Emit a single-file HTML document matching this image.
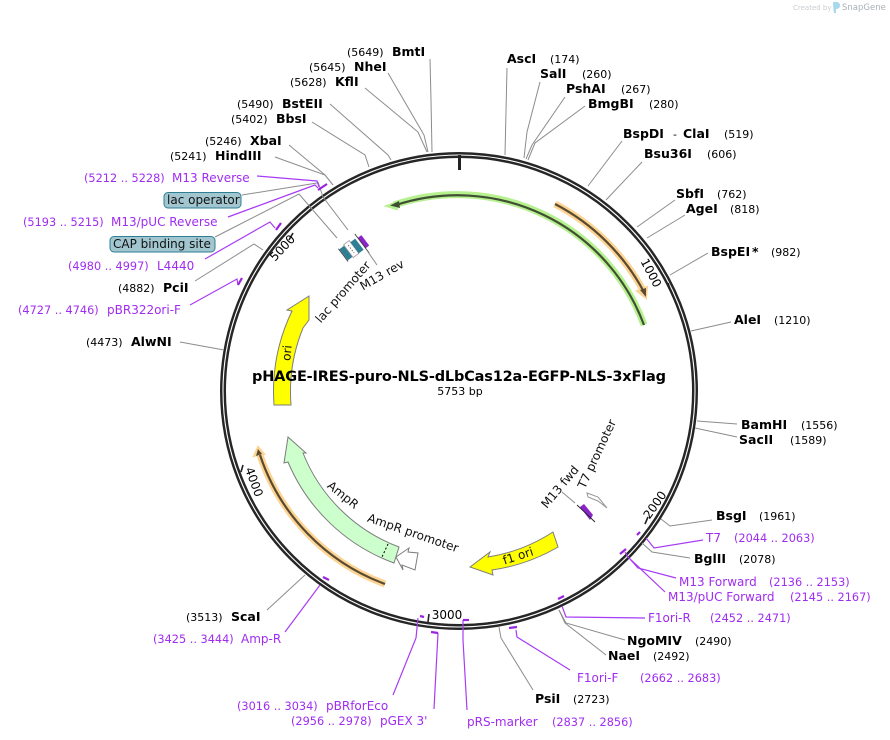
<!DOCTYPE html>
<html>
<head>
<meta charset="utf-8">
<style>
html,body{margin:0;padding:0;background:#fff;width:890px;height:740px;overflow:hidden}
svg{display:block}
text{font-family:"DejaVu Sans",sans-serif;fill:#000}
.n{font-size:11px}
.b{font-size:12.5px;font-weight:bold}
.p{font-size:12px;fill:#a02cf0}
.pn{font-size:11.3px;fill:#a02cf0}
.f{font-size:12px;fill:#111}
.g{fill:none;stroke:#8c8c8c;stroke-width:1}
.v{fill:none;stroke:#a83cf5;stroke-width:1.2}
.t{fill:none;stroke:#9a24e0;stroke-width:2.2}
</style>
</head>
<body>
<svg width="890" height="740" viewBox="0 0 890 740" xmlns="http://www.w3.org/2000/svg">
<!-- watermark -->
<text x="793" y="10" style="font-size:7px;fill:#c8cdd2">Created by</text>
<path d="M833 2h3q4 0 4 3.500t-4 3.500v4h-2q-1-5-1-11z" fill="#a8d8ee"/>
<text x="842" y="10" style="font-size:8.500px;fill:#a9b0b6">SnapGene</text>

<!-- ring -->
<circle cx="459" cy="391" r="236" fill="none" stroke="#262626" stroke-width="6"/>
<circle cx="459" cy="391" r="236" fill="none" stroke="#fff" stroke-width="1.1"/>

<!-- ticks -->
<path d="M459.5 155V170" stroke="#222" stroke-width="3" fill="none"/>
<g stroke="#222" stroke-width="1.6" fill="none">
<path d="M668 283L670 289"/>
<path d="M645 524L648 517"/>
<path d="M428 622L429 614"/>
<path d="M243 465L241 472"/>
<path d="M293 233L289 240"/>
</g>
<text transform="translate(651,273) rotate(62)" text-anchor="middle" style="font-size:12px" dy="4">1000</text>
<text transform="translate(655,505) rotate(-55)" text-anchor="middle" style="font-size:12px" dy="4">2000</text>
<text x="447" y="619" text-anchor="middle" style="font-size:12px">3000</text>
<text transform="translate(254,482) rotate(70)" text-anchor="middle" style="font-size:12px" dy="4">4000</text>
<text transform="translate(282.500,248) rotate(-47)" text-anchor="middle" style="font-size:12px" dy="4">5000</text>

<!-- gray connectors -->
<g class="g">
<path d="M430 59L431 100L432 152"/>
<path d="M388 73L424 135L428 152"/>
<path d="M365 88L418 132L427 152"/>
<path d="M330 104L388 155L391 160"/>
<path d="M312 122L365 155L369 167"/>
<path d="M289 145L325 175L333 185"/>
<path d="M275 157L325 175L333 185"/>
<path d="M242 195L317 183"/>
<path d="M318 182L323 197L348 230"/>
<path d="M215 237L299 194L337 238"/>
<path d="M195 281L254 244L263 250"/>
<path d="M180 342L224 350"/>
<path d="M507 68L505 155"/>
<path d="M540 82L527 132L524 158"/>
<path d="M565 97L532 145L526 159"/>
<path d="M585 106L535 143L528 160"/>
<path d="M622 141L588 186"/>
<path d="M642 162L606 200"/>
<path d="M675 200L637 227"/>
<path d="M685 215L647 238"/>
<path d="M708 253L670 275"/>
<path d="M731 322L691 331"/>
<path d="M737 424L697 421"/>
<path d="M737 437L695 428"/>
<path d="M712 520L670 526L661 519"/>
<path d="M690 558L652 552L642 543"/>
<path d="M625 640L566 623L559 610"/>
<path d="M606 655L565 623L559 610"/>
<path d="M533 690L501 638L499 627"/>
<path d="M267 610L305 575"/>
<path d="M562 492L575 503"/>
</g>

<!-- purple connectors -->
<g class="v">
<path d="M257 176L317 181L319 187"/>
<path d="M228 217L315 185L318 188"/>
<path d="M205 259L270 222L275 228"/>
<path d="M190 305L237 279L238 285"/>
<path d="M285 632L320 585"/>
<path d="M703 540L654 548L646 538"/>
<path d="M676 578L638 568L629 558"/>
<path d="M665 592L628 557L625 552"/>
<path d="M645 618L566 617L562 606"/>
<path d="M570 670L517 637L516 630"/>
<path d="M467 710L463 640L463 620"/>
<path d="M434 709L438 633"/>
<path d="M393 695L416 638L418 618"/>
</g>
<g class="t">
<path d="M318 190L327 184"/>
<path d="M276 230L281 223"/>
<path d="M238 285L242 278"/>
<path d="M323 577L329 580"/>
<path d="M637 535L640 532"/>
<path d="M620 554L626 549"/>
<path d="M558 599L564 596"/>
<path d="M509 628L517 627"/>
<path d="M463 620L469 620"/>
<path d="M431 632L438 633"/>
<path d="M420 616L424 617"/>
</g>

<!-- green ORF arc -->
<path d="M644 325A199 199 0 0 0 394 205" fill="none" stroke="#b7f08f" stroke-width="7"/>
<path d="M396 203L388 206L398 209" fill="#b7f08f" stroke="#b7f08f" stroke-width="3"/>
<path d="M644 325A199 199 0 0 0 396 205" fill="none" stroke="#3f4f33" stroke-width="2.200"/>
<path d="M399 201L390 205.500L400 208z" fill="#3f4f33"/>

<!-- orange arcs -->
<path d="M555 204A212 212 0 0 1 644 292" fill="none" stroke="#fcd494" stroke-width="7"/>
<path d="M637 291L646 298L647 287z" fill="#fcd494" stroke="#fcd494" stroke-width="2"/>
<path d="M555 204A212 212 0 0 1 644 292" fill="none" stroke="#5a4a30" stroke-width="2.200"/>
<path d="M640 290L646 297L646 288z" fill="#5a4a30"/>
<path d="M385 584A207 207 0 0 1 260 455" fill="none" stroke="#fcd494" stroke-width="7"/>
<path d="M254 456L258 447L264 454z" fill="#fcd494" stroke="#fcd494" stroke-width="2"/>
<path d="M385 584A207 207 0 0 1 260 455" fill="none" stroke="#5a4a30" stroke-width="2.200"/>
<path d="M256 456L258 449L262 454z" fill="#5a4a30"/>

<!-- AmpR -->
<path d="M288 437L306 453L303 453A166 166 0 0 0 399 547L394 563A183 183 0 0 1 288 462L284 463z" fill="#ccffcc" stroke="#7d7d7d" stroke-width="1"/>
<path d="M388 544L382 557" stroke="#000" stroke-width="1" stroke-dasharray="2 2" fill="none"/>
<text transform="translate(343,495) rotate(39)" text-anchor="middle" class="f" dy="4">AmpR</text>
<!-- AmpR promoter -->
<path d="M396 557L409 548L408 552L418 553L415 570L402 565L403 570z" fill="#fff" stroke="#7d7d7d" stroke-width="1"/>
<text transform="translate(413,533) rotate(19)" text-anchor="middle" class="f" dy="4">AmpR promoter</text>

<!-- f1 ori -->
<path d="M470 567L490 552L488 557A168 168 0 0 0 553 532L558 547A183 183 0 0 1 492 570L493 575z" fill="#ffff00" stroke="#7d7d7d" stroke-width="1"/>
<text transform="translate(518,556) rotate(-18)" text-anchor="middle" class="f" dy="4">f1 ori</text>

<!-- ori -->
<path d="M274 405A186 186 0 0 1 292 311L287 310L309 296L309 320L303 328A169 169 0 0 0 291 405z" fill="#ffff00" stroke="#7d7d7d" stroke-width="1"/>
<text transform="translate(287,353) rotate(-85)" text-anchor="middle" class="f" dy="4">ori</text>

<!-- lac region -->
<text transform="translate(343,292) rotate(-49)" text-anchor="middle" class="f" dy="4">lac promoter</text>
<text transform="translate(382,275) rotate(-30)" text-anchor="middle" class="f" dy="4">M13 rev</text>
<g transform="translate(346,253) rotate(53)">
<rect x="-7" y="-3" width="14" height="6" fill="#2e7f93"/>
<path d="M-8 3.500H8" stroke="#333" stroke-width=".8"/>
<rect x="-8" y="-10" width="16" height="7" fill="#fff" stroke="#999" stroke-width=".8"/>
<path d="M-5 -6.500H5" stroke="#777" stroke-width="1" stroke-dasharray="1.500 1.500"/>
<rect x="-6" y="-16" width="14" height="6" fill="#2e7f93"/>
<rect x="-5" y="-23" width="13" height="4.500" fill="#8a24c8"/>
<path d="M-10 -18.500H14" stroke="#333" stroke-width=".8"/>
</g>
<path d="M368 252L377 265" class="g"/>

<!-- M13 fwd / T7 -->
<text transform="translate(560,487) rotate(-50)" text-anchor="middle" class="f" dy="4">M13 fwd</text>
<text transform="translate(597,454) rotate(-65)" text-anchor="middle" class="f" dy="4">T7 promoter</text>
<path d="M580 507L584 504L593 515L590 520z" fill="#8a24c8"/>
<path d="M577 505L595 522" stroke="#222" stroke-width=".9" fill="none"/>
<path d="M587 493L598 497L607 508L598 501L588 497z" fill="#fff" stroke="#999" stroke-width="1"/>

<!-- title -->
<text x="459" y="381" text-anchor="middle" style="font-size:14.500px;font-weight:bold" textLength="414" lengthAdjust="spacing">pHAGE-IRES-puro-NLS-dLbCas12a-EGFP-NLS-3xFlag</text>
<text x="460" y="395" text-anchor="middle" style="font-size:11px">5753 bp</text>

<!-- pills -->
<rect x="164" y="192.500" width="77" height="15.500" rx="4" fill="#a2c6d0" stroke="#2e7f93"/>
<text x="167" y="204" class="f">lac operator</text>
<rect x="110" y="236.500" width="105" height="15.500" rx="4" fill="#a2c6d0" stroke="#2e7f93"/>
<text x="113" y="248" class="f">CAP binding site</text>

<!-- enzyme labels -->
<g>
<text x="347" y="56" class="n">(5649)</text><text x="392" y="56" class="b">BmtI</text>
<text x="309" y="71" class="n">(5645)</text><text x="354" y="71" class="b">NheI</text>
<text x="290" y="86" class="n">(5628)</text><text x="335" y="86" class="b">KflI</text>
<text x="237" y="108" class="n">(5490)</text><text x="282" y="108" class="b">BstEII</text>
<text x="231" y="123" class="n">(5402)</text><text x="276" y="123" class="b">BbsI</text>
<text x="205" y="145" class="n">(5246)</text><text x="250" y="145" class="b">XbaI</text>
<text x="170" y="160" class="n">(5241)</text><text x="215" y="160" class="b">HindIII</text>
<text x="118" y="292" class="n">(4882)</text><text x="163" y="292" class="b">PciI</text>
<text x="86" y="346" class="n">(4473)</text><text x="131" y="346" class="b">AlwNI</text>
<text x="186" y="621" class="n">(3513)</text><text x="231" y="621" class="b">ScaI</text>

<text x="507" y="63" class="b">AscI</text><text x="550" y="63" class="n">(174)</text>
<text x="540" y="78" class="b">SalI</text><text x="582" y="78" class="n">(260)</text>
<text x="566" y="93" class="b">PshAI</text><text x="621" y="93" class="n">(267)</text>
<text x="588" y="108" class="b">BmgBI</text><text x="649" y="108" class="n">(280)</text>
<text x="623" y="138" class="b">BspDI</text><text x="673" y="138" class="n">-</text><text x="683" y="138" class="b">ClaI</text><text x="724" y="138" class="n">(519)</text>
<text x="644" y="158" class="b">Bsu36I</text><text x="707" y="158" class="n">(606)</text>
<text x="676" y="198" class="b">SbfI</text><text x="717" y="198" class="n">(762)</text>
<text x="686" y="213" class="b">AgeI</text><text x="730" y="213" class="n">(818)</text>
<text x="711" y="256" class="b">BspEI</text><text x="752" y="256" class="b">*</text><text x="771" y="256" class="n">(982)</text>
<text x="734" y="324" class="b">AleI</text><text x="774" y="324" class="n">(1210)</text>
<text x="741" y="429" class="b">BamHI</text><text x="801" y="429" class="n">(1556)</text>
<text x="739" y="444" class="b">SacII</text><text x="790" y="444" class="n">(1589)</text>
<text x="716" y="520" class="b">BsgI</text><text x="759" y="520" class="n">(1961)</text>
<text x="694" y="563" class="b">BglII</text><text x="739" y="563" class="n">(2078)</text>
<text x="627" y="645" class="b">NgoMIV</text><text x="695" y="645" class="n">(2490)</text>
<text x="608" y="660" class="b">NaeI</text><text x="653" y="660" class="n">(2492)</text>
<text x="535" y="703" class="b">PsiI</text><text x="573" y="703" class="n">(2723)</text>
</g>

<!-- primer labels -->
<g>
<text x="84" y="182" class="pn">(5212 .. 5228)</text><text x="172" y="182" class="p">M13 Reverse</text>
<text x="23" y="226" class="pn">(5193 .. 5215)</text><text x="111" y="226" class="p">M13/pUC Reverse</text>
<text x="68" y="270" class="pn">(4980 .. 4997)</text><text x="157" y="270" class="p">L4440</text>
<text x="18" y="314" class="pn">(4727 .. 4746)</text><text x="107" y="314" class="p">pBR322ori-F</text>
<text x="153" y="643" class="pn">(3425 .. 3444)</text><text x="241" y="643" class="p">Amp-R</text>
<text x="237" y="710" class="pn">(3016 .. 3034)</text><text x="326" y="710" class="p">pBRforEco</text>
<text x="291" y="725" class="pn">(2956 .. 2978)</text><text x="380" y="725" class="p">pGEX 3'</text>
<text x="467" y="726" class="p">pRS-marker</text><text x="552" y="726" class="pn">(2837 .. 2856)</text>
<text x="577" y="682" class="p">F1ori-F</text><text x="640" y="682" class="pn">(2662 .. 2683)</text>
<text x="648" y="622" class="p">F1ori-R</text><text x="710" y="622" class="pn">(2452 .. 2471)</text>
<text x="668" y="601" class="p">M13/pUC Forward</text><text x="790" y="601" class="pn">(2145 .. 2167)</text>
<text x="679" y="586" class="p">M13 Forward</text><text x="769" y="586" class="pn">(2136 .. 2153)</text>
<text x="706" y="542" class="p">T7</text><text x="734" y="542" class="pn">(2044 .. 2063)</text>
</g>
</svg>
</body>
</html>
